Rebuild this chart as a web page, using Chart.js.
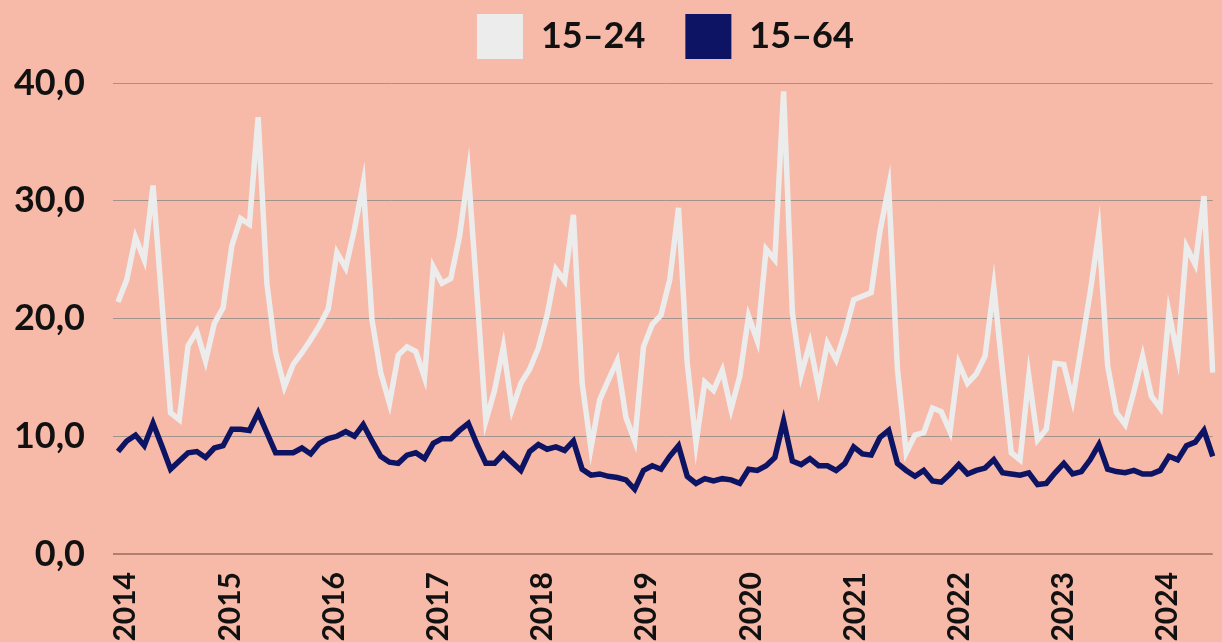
<!DOCTYPE html>
<html>
<head>
<meta charset="utf-8">
<script src="https://cdn.jsdelivr.net/npm/chart.js@4.4.1/dist/chart.umd.min.js"></script>
<style>
  html, body { margin: 0; padding: 0; background: #F7B9A8; }
  canvas { display: block; }
</style>
</head>
<body>
<canvas id="c" width="1222" height="642"></canvas>
<script>
const seriesNames = ['15–24', '15–64'];
const yearLabels = ['2014', '2015', '2016', '2017', '2018', '2019', '2020', '2021', '2022', '2023', '2024'];
const yTickLabels = ['0,0', '10,0', '20,0', '30,0', '40,0'];

// Monthly values, Jan 2014 – Jun 2024
const youth = [
  21.4, 23.3, 26.9, 25.0, 31.3, 21.5, 12.0, 11.4, 17.7, 18.9, 16.4, 19.6,
  20.9, 26.2, 28.5, 28.0, 37.1, 23.0, 17.1, 14.2, 16.1, 17.1, 18.2, 19.4,
  20.8, 25.6, 24.3, 27.6, 31.5, 19.9, 15.4, 12.8, 16.9, 17.6, 17.2, 15.0,
  24.4, 23.0, 23.4, 27.0, 32.4, 22.0, 11.3, 13.9, 17.6, 12.3, 14.5, 15.7,
  17.5, 20.3, 24.2, 23.2, 28.8, 14.5, 9.0, 13.1, 14.8, 16.4, 11.6, 9.6,
  17.6, 19.5, 20.3, 23.3, 29.4, 16.2, 9.4, 14.6, 13.9, 15.6, 12.3, 15.1,
  20.2, 18.1, 25.9, 25.0, 39.3, 20.5, 15.2, 17.9, 14.1, 17.9, 16.5, 18.8,
  21.6, 21.9, 22.2, 27.4, 31.2, 15.7, 8.6, 10.1, 10.3, 12.4, 12.1, 10.4,
  16.2, 14.5, 15.3, 16.8, 22.7, 15.5, 8.6, 8.0, 15.1, 9.7, 10.6, 16.2,
  16.1, 13.1, 17.6, 22.2, 27.4, 16.0, 12.0, 11.0, 13.8, 16.8, 13.4, 12.4,
  20.5, 16.8, 26.1, 24.6, 30.4, 15.4
];
const workingAge = [
  8.7, 9.6, 10.1, 9.2, 11.1, 9.2, 7.2, 7.9, 8.6, 8.7, 8.2, 9.0,
  9.2, 10.6, 10.6, 10.5, 12.0, 10.3, 8.6, 8.6, 8.6, 9.0, 8.5, 9.4,
  9.8, 10.0, 10.4, 10.0, 11.0, 9.6, 8.3, 7.8, 7.7, 8.4, 8.6, 8.1,
  9.4, 9.8, 9.8, 10.5, 11.1, 9.3, 7.7, 7.7, 8.5, 7.8, 7.1, 8.7,
  9.3, 8.9, 9.1, 8.8, 9.6, 7.2, 6.7, 6.8, 6.6, 6.5, 6.3, 5.5,
  7.1, 7.5, 7.2, 8.3, 9.2, 6.6, 6.0, 6.4, 6.2, 6.4, 6.3, 6.0,
  7.2, 7.1, 7.5, 8.2, 11.3, 7.9, 7.6, 8.1, 7.5, 7.5, 7.1, 7.7,
  9.1, 8.5, 8.4, 9.9, 10.5, 7.7, 7.1, 6.6, 7.1, 6.2, 6.1, 6.8,
  7.6, 6.8, 7.1, 7.3, 8.0, 6.9, 6.8, 6.7, 6.9, 5.9, 6.0, 6.9,
  7.7, 6.8, 7.0, 8.0, 9.3, 7.2, 7.0, 6.9, 7.1, 6.8, 6.8, 7.1,
  8.3, 8.0, 9.2, 9.5, 10.5, 8.3
];

// Month categories
const months = [];
for (let y = 2014; y <= 2024; y++) {
  for (let m = 1; m <= 12; m++) months.push(y + '-' + String(m).padStart(2, '0'));
}
months.length = youth.length;

const FONT = 'Lato, "Open Sans", sans-serif';
const TEXT = '#111111';

new Chart(document.getElementById('c').getContext('2d'), {
  type: 'line',
  data: {
    labels: months,
    datasets: [
      { label: seriesNames[0], data: youth, borderColor: '#ECECEC', backgroundColor: '#ECECEC',
        borderWidth: 5.5, pointRadius: 0, pointHoverRadius: 0, tension: 0, xAxisID: 'x', yAxisID: 'y' },
      { label: seriesNames[1], data: workingAge, borderColor: '#0D1463', backgroundColor: '#0D1463',
        borderWidth: 5.5, pointRadius: 0, pointHoverRadius: 0, tension: 0, xAxisID: 'x', yAxisID: 'y' }
    ]
  },
  options: {
    responsive: false,
    animation: false,
    devicePixelRatio: 1,
    layout: { padding: { left: 0, right: 4, top: -26, bottom: 0 } },
    plugins: {
      tooltip: { enabled: false },
      legend: {
        display: true,
        position: 'top',
        fullSize: false,
        labels: {
          boxWidth: 46,
          boxHeight: 45,
          padding: 40,
          color: TEXT,
          font: { family: FONT, size: 36, weight: 'bold' },
          generateLabels: (chart) =>
            Chart.defaults.plugins.legend.labels.generateLabels(chart).map(l => ({ ...l, lineWidth: 0, fillStyle: l.strokeStyle }))
        }
      }
    },
    scales: {
      x: { type: 'category', display: false, offset: false },
      years: {
        type: 'linear',
        position: 'bottom',
        min: 2013.926,
        max: 2024.433,
        grid: { display: false, drawTicks: false },
        border: { display: false },
        ticks: {
          stepSize: 1,
          includeBounds: false,
          autoSkip: false,
          minRotation: 90,
          maxRotation: 90,
          padding: 18,
          color: TEXT,
          font: { family: FONT, size: 30, weight: 'bold' },
          callback: (v) => yearLabels[Math.round(v) - 2014] ?? ''
        },
        afterFit: (s) => { s.height = 88; }
      },
      y: {
        min: 0,
        max: 41.2,
        border: { display: false },
        grid: {
          color: (c) => (c.tick && c.tick.value === 0) ? '#B07F72' : '#A3938D',
          lineWidth: (c) => (c.tick && c.tick.value === 0) ? 2 : 1,
          drawTicks: true,
          tickLength: 5
        },
        ticks: {
          stepSize: 10,
          includeBounds: false,
          padding: 28,
          color: TEXT,
          font: { family: FONT, size: 36, weight: 'bold' },
          callback: (v) => yTickLabels[Math.round(v / 10)]
        },
        afterFit: (s) => { s.width = 118; }
      }
    }
  }
});
</script>
</body>
</html>
